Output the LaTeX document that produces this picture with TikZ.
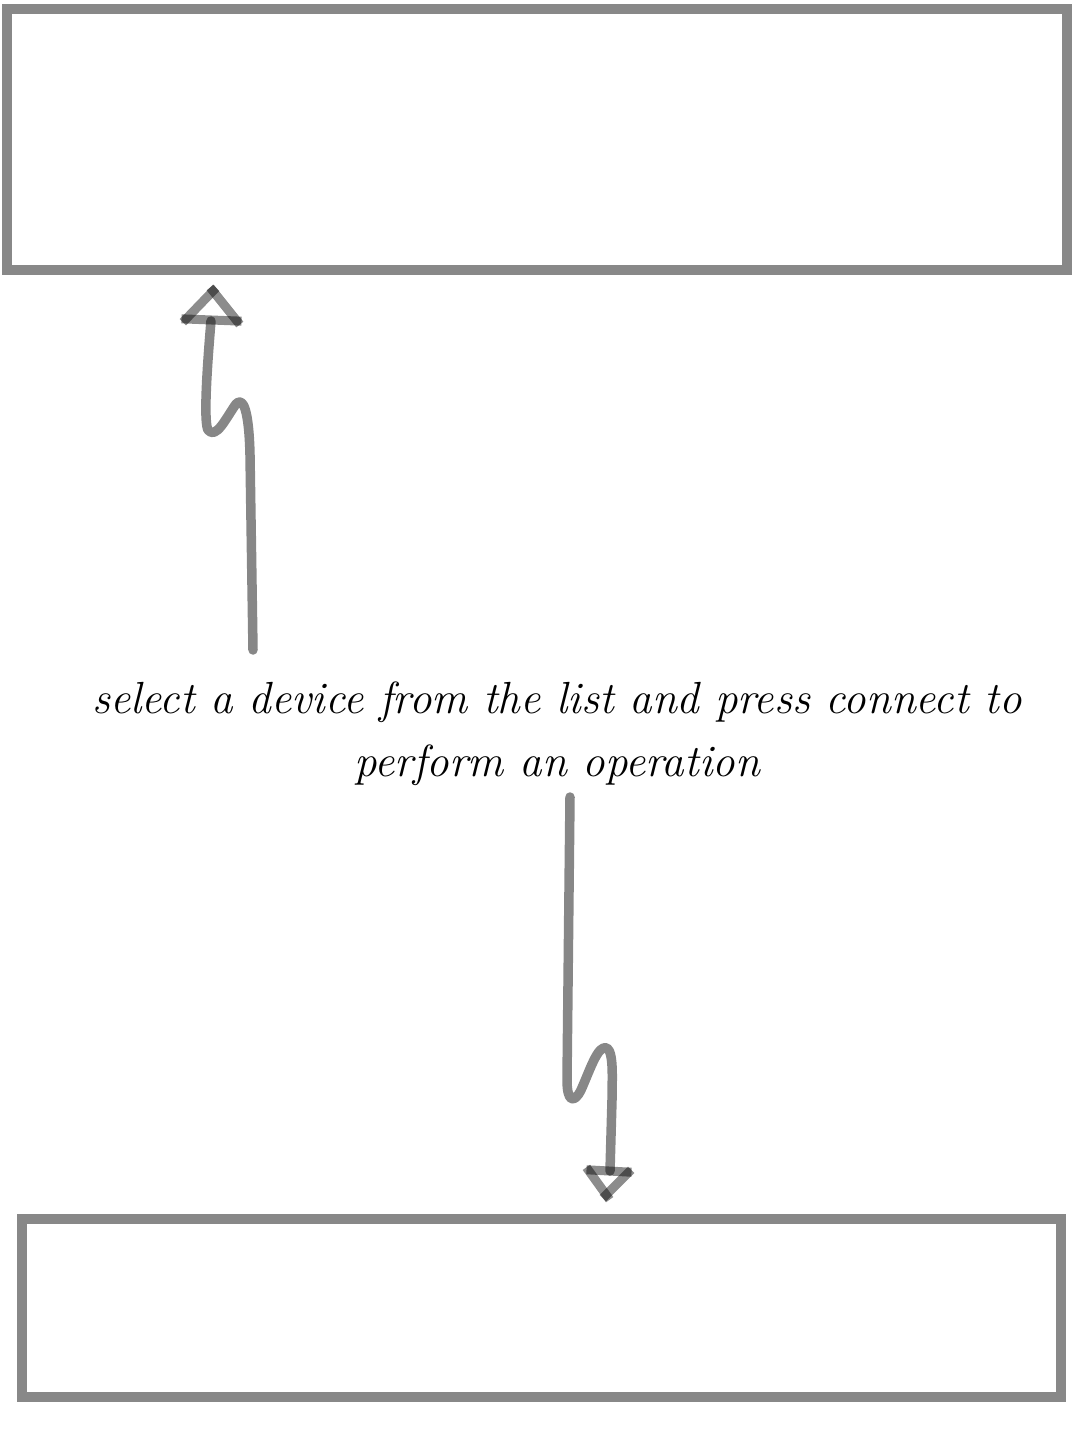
\documentclass[tikz,border=0pt]{standalone}
\usetikzlibrary{calc}
\definecolor{boxgray}{HTML}{888888}
\tikzset{
  panel/.style={draw=boxgray, line width=10pt, fill=white, rectangle, inner sep=0pt},
  conn/.style={draw=black, draw opacity=0.47, line width=9.5pt, line cap=round, line join=round},
  headseg/.style={draw=black, draw opacity=0.45, line width=9pt, line cap=rect},
  caption/.style={align=center, font=\fontsize{45}{63}\selectfont\itshape, inner sep=0pt}
}
\begin{document}
\begin{tikzpicture}[x=1pt,y=-1pt]
\useasboundingbox (0,0) rectangle (1076,1429);
\fill[white] (0,0) rectangle (1076,1429);
\node[panel, minimum width=1060pt, minimum height=260.5pt] (top) at (537,139.25) {};
\node[panel, minimum width=1039pt, minimum height=178pt] (bottom) at (541.5,1308) {};
\node[caption] (lbl) at (557,734) {select a device from the list and press connect to\\perform an operation};
% arrow to top box
\coordinate (a1s) at (253,650);
\coordinate (a1e) at (211,321);
\draw[conn] (a1s) -- (250,455) .. controls (249,410) and (243,396) .. (236,404)
  .. controls (226,418) and (216,440) .. (208,430)
  .. controls (204,422) and (206,380) .. (a1e);
\draw[headseg] (186,319) -- (237,321);
\draw[headseg] (186,319) -- (213,291);
\draw[headseg] (237,321) -- (213,291);
% arrow to bottom box
\coordinate (a2s) at (570,797);
\coordinate (a2e) at (610,1171);
\draw[conn] (a2s) -- (567,1080) .. controls (567,1102) and (574,1104) .. (581,1090)
  .. controls (590,1070) and (598,1044) .. (607,1048)
  .. controls (614,1053) and (612,1080) .. (612,1100) -- (a2e);
\draw[headseg] (591,1170) -- (627,1172);
\draw[headseg] (589,1171) -- (607,1196);
\draw[headseg] (628,1173) -- (606,1195);
\end{tikzpicture}
\end{document}
